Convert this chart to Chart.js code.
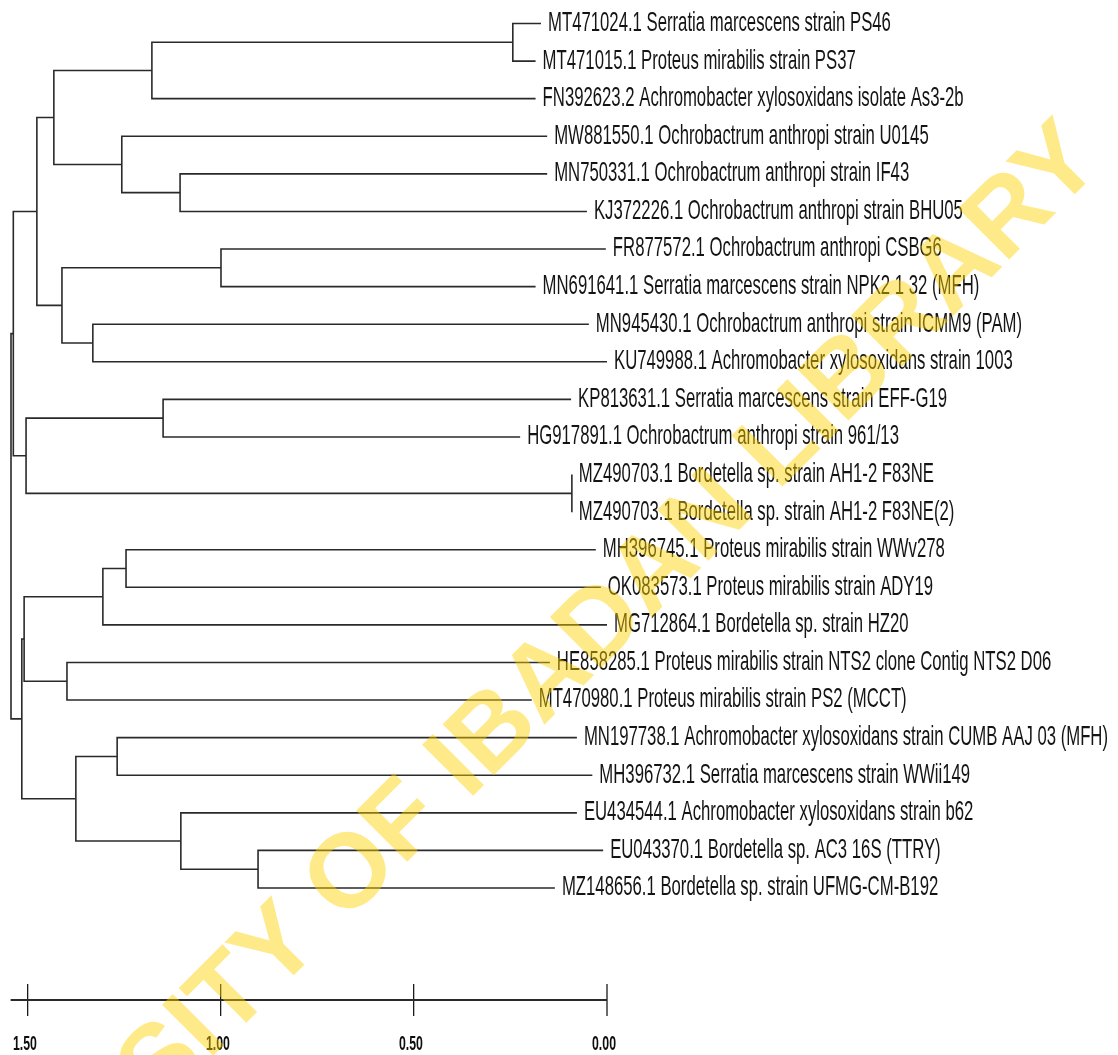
<!DOCTYPE html>
<html>
<head>
<meta charset="utf-8">
<title>Dendrogram</title>
<script src="https://cdn.jsdelivr.net/npm/chart.js@4.4.1/dist/chart.umd.min.js"></script>
<style>
    html, body { margin: 0; padding: 0; background: #ffffff; }
    #wrap { width: 1118px; height: 1055px; position: relative; }
</style>
</head>
<body>
<div id="wrap"><canvas id="treeChart" width="1118" height="1055"></canvas></div>
<script>
// Leaves, top to bottom
const leafNames = [
    'MT471024.1 Serratia marcescens strain PS46',
    'MT471015.1 Proteus mirabilis strain PS37',
    'FN392623.2 Achromobacter xylosoxidans isolate As3-2b',
    'MW881550.1 Ochrobactrum anthropi strain U0145',
    'MN750331.1 Ochrobactrum anthropi strain IF43',
    'KJ372226.1 Ochrobactrum anthropi strain BHU05',
    'FR877572.1 Ochrobactrum anthropi CSBG6',
    'MN691641.1 Serratia marcescens strain NPK2 1 32 (MFH)',
    'MN945430.1 Ochrobactrum anthropi strain ICMM9 (PAM)',
    'KU749988.1 Achromobacter xylosoxidans strain 1003',
    'KP813631.1 Serratia marcescens strain EFF-G19',
    'HG917891.1 Ochrobactrum anthropi strain 961/13',
    'MZ490703.1 Bordetella sp. strain AH1-2 F83NE',
    'MZ490703.1 Bordetella sp. strain AH1-2 F83NE(2)',
    'MH396745.1 Proteus mirabilis strain WWv278',
    'OK083573.1 Proteus mirabilis strain ADY19',
    'MG712864.1 Bordetella sp. strain HZ20',
    'HE858285.1 Proteus mirabilis strain NTS2 clone Contig NTS2 D06',
    'MT470980.1 Proteus mirabilis strain PS2 (MCCT)',
    'MN197738.1 Achromobacter xylosoxidans strain CUMB AAJ 03 (MFH)',
    'MH396732.1 Serratia marcescens strain WWii149',
    'EU434544.1 Achromobacter xylosoxidans strain b62',
    'EU043370.1 Bordetella sp. AC3 16S (TTRY)',
    'MZ148656.1 Bordetella sp. strain UFMG-CM-B192'
];

// Where each leaf branch stops on the distance scale
const leafHeights = [
    0.171, 0.185, 0.185, 0.155, 0.155, 0.052, 0.003, 0.185,
    0.047, 0.000, 0.093, 0.225, 0.091, 0.091, 0.029, 0.016,
    0.000, 0.148, 0.195, 0.078, 0.038, 0.078, 0.010, 0.135
];

// Internal nodes (children listed before parents); 'L' = leaf, 'C' = clade
const cladeChildren = [
    ['L0', 'L1'],   ['C0', 'L2'],   ['L4', 'L5'],   ['L3', 'C2'],
    ['C1', 'C3'],   ['L6', 'L7'],   ['L8', 'L9'],   ['C5', 'C6'],
    ['C4', 'C7'],   ['L10', 'L11'], ['L12', 'L13'], ['C9', 'C10'],
    ['C8', 'C11'],  ['L14', 'L15'], ['C13', 'L16'], ['L17', 'L18'],
    ['C14', 'C15'], ['L19', 'L20'], ['L22', 'L23'], ['L21', 'C18'],
    ['C17', 'C19'], ['C16', 'C20'], ['C12', 'C21']
];
const cladeHeights = [
    0.244, 1.179, 1.106, 1.257,
    1.433, 1.000, 1.332, 1.412,
    1.477, 1.150, 0.091, 1.505,
    1.538, 1.246, 1.306, 1.399,
    1.510, 1.269, 0.904, 1.104,
    1.376, 1.516, 1.544
];

// Scale bar
const scaleTicks = [1.5, 1.0, 0.5, 0.0];
const scaleLabels = ['1.50', '1.00', '0.50', '0.00'];
const scaleBarFrom = 1.545;

const watermarkText = 'UNIVERSITY OF IBADAN LIBRARY';

// Pick a condensed face; squeeze a regular one if no narrow face is installed
const probe = document.createElement('canvas').getContext('2d');
const probeText = leafNames[0];
probe.font = '20px "Liberation Sans Narrow", monospace';
const narrowW = probe.measureText(probeText).width;
probe.font = '20px monospace';
const monoW = probe.measureText(probeText).width;
const hasNarrow = Math.abs(narrowW - monoW) > 0.5;
const labelFamily = hasNarrow ? '"Liberation Sans Narrow", "Arial Narrow", sans-serif' : '"Liberation Sans", Arial, sans-serif';
const squeeze = hasNarrow ? 1 : 0.82;
const stretch = 1.32; // the labels are drawn tall and narrow

// Positions of nodes (x = distance, y = leaf row)
const cladePos = [];
function nodePos(ref) {
    const idx = parseInt(ref.slice(1), 10);
    if (ref[0] === 'L') return { x: leafHeights[idx], y: idx };
    return cladePos[idx];
}
cladeChildren.forEach((kids, i) => {
    const first = nodePos(kids[0]);
    const last = nodePos(kids[kids.length - 1]);
    cladePos[i] = { x: cladeHeights[i], y: (first.y + last.y) / 2 };
});

// One elbow per clade: child -> node -> node -> child
const datasets = cladeChildren.map((kids, i) => {
    const a = nodePos(kids[0]);
    const b = nodePos(kids[kids.length - 1]);
    const h = cladeHeights[i];
    return {
        data: [
            { x: a.x, y: a.y },
            { x: h, y: a.y },
            { x: h, y: b.y },
            { x: b.x, y: b.y }
        ],
        showLine: true,
        borderColor: '#2a2a2a',
        borderWidth: 1.6,
        pointRadius: 0,
        tension: 0,
        clip: false
    };
});

function drawTallText(ctx, text, px, py, size, weight) {
    ctx.save();
    ctx.translate(px, py);
    ctx.scale(squeeze, stretch);
    ctx.font = (weight || 'normal') + ' ' + size + 'px ' + labelFamily;
    ctx.fillText(text, 0, 0);
    ctx.restore();
}

const leafLabelPlugin = {
    id: 'leafLabels',
    afterDatasetsDraw(chart) {
        const { ctx, scales: { x, y } } = chart;
        ctx.save();
        ctx.fillStyle = '#141414';
        ctx.textBaseline = 'middle';
        ctx.textAlign = 'left';
        leafNames.forEach((name, i) => {
            const px = x.getPixelForValue(leafHeights[i]) + 7;
            const py = y.getPixelForValue(i);
            drawTallText(ctx, name, px, py, 20.4);
        });
        ctx.restore();
    }
};

// Horizontal bar through the middle of the tick marks, plus the tick numbers
const scaleBarPlugin = {
    id: 'scaleBar',
    afterDraw(chart) {
        const { ctx, scales: { x } } = chart;
        const yMid = x.top + 16;
        ctx.save();
        ctx.strokeStyle = '#2a2a2a';
        ctx.lineWidth = 2;
        ctx.beginPath();
        ctx.moveTo(x.getPixelForValue(scaleBarFrom), yMid);
        ctx.lineTo(x.getPixelForValue(0), yMid);
        ctx.stroke();

        ctx.fillStyle = '#0d0d0d';
        ctx.textAlign = 'center';
        ctx.textBaseline = 'middle';
        scaleTicks.forEach((v, i) => {
            drawTallText(ctx, scaleLabels[i], x.getPixelForValue(v) - 3, x.top + 61, 15, 'bold');
        });
        ctx.restore();
    }
};

const watermarkPlugin = {
    id: 'watermark',
    afterDraw(chart) {
        const { ctx } = chart;
        ctx.save();
        ctx.translate(471, 757);
        ctx.rotate(-45 * Math.PI / 180);
        ctx.font = 'bold 105px "Liberation Sans", Arial, sans-serif';
        ctx.textAlign = 'center';
        ctx.textBaseline = 'middle';
        ctx.fillStyle = 'rgba(255, 210, 0, 0.46)';
        ctx.fillText(watermarkText, 0, 0);
        ctx.restore();
    }
};

new Chart(document.getElementById('treeChart').getContext('2d'), {
    type: 'scatter',
    data: { datasets },
    options: {
        responsive: false,
        animation: false,
        devicePixelRatio: 1,
        layout: { padding: { left: 0, right: 511, top: 0, bottom: 0 } },
        plugins: {
            legend: { display: false },
            tooltip: { enabled: false }
        },
        scales: {
            x: {
                type: 'linear',
                position: 'bottom',
                reverse: true,
                min: 0,
                max: 1.5725,
                border: { display: false },
                grid: {
                    drawOnChartArea: false,
                    drawTicks: true,
                    tickLength: 32,
                    color: (c) => (c.index === scaleTicks.length - 1 ? '#6a6a6a' : '#1a1a1a'),
                    lineWidth: (c) => (c.index === scaleTicks.length - 1 ? 2 : 1.3)
                },
                afterBuildTicks: (scale) => {
                    scale.ticks = scaleTicks.map(v => ({ value: v }));
                },
                afterFit: (scale) => {
                    scale.height = 71;
                },
                ticks: { display: false, autoSkip: false }
            },
            y: {
                type: 'linear',
                display: false,
                reverse: true,
                min: -0.6252,
                max: 25.554
            }
        }
    },
    plugins: [leafLabelPlugin, scaleBarPlugin, watermarkPlugin]
});
</script>
</body>
</html>
